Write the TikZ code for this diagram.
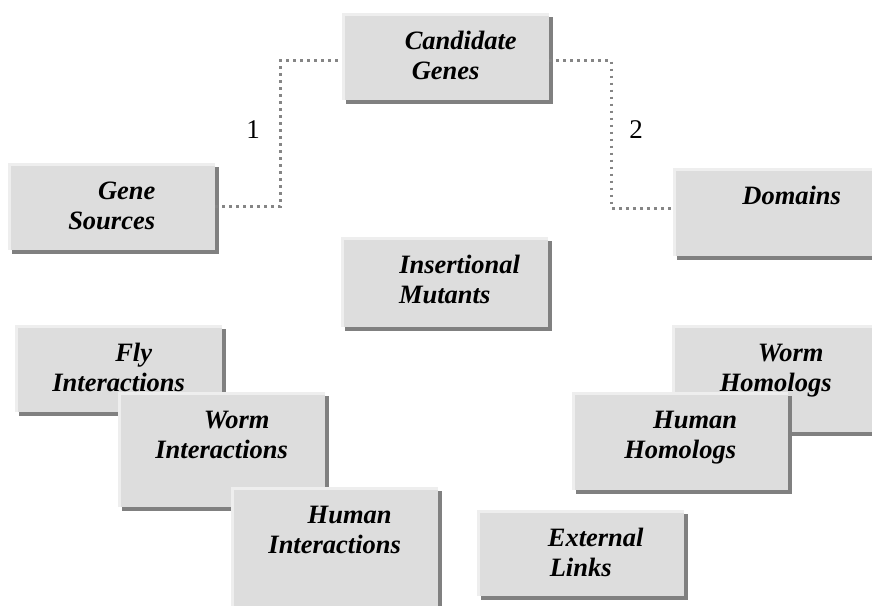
\documentclass[tikz,border=0pt]{standalone}
\usepackage{fontspec}
\setmainfont{Liberation Serif}
\newfontfamily\boxfont{Liberation Serif}
\usepackage{xcolor}
\usetikzlibrary{shadows,calc}
\definecolor{panelgray}{HTML}{DDDDDD}
\definecolor{edgegray}{HTML}{EEEEEE}
\definecolor{shadegray}{HTML}{808080}
\definecolor{dotgray}{HTML}{858585}
\newcommand{\ind}{\hspace*{30pt}}

\begin{document}
\begin{tikzpicture}[x=1pt,y=-1pt,
  panel/.style={anchor=north west,inner sep=0pt,fill=panelgray,align=center,
    font=\boxfont\bfseries\itshape\fontsize{26.5}{30}\selectfont,
    text height=66pt,minimum width=207pt,
    drop shadow={shadow xshift=4pt,shadow yshift=-4pt,fill=shadegray,opacity=1},
    path picture={\draw[edgegray,line width=6pt] (path picture bounding box.south west)
      -- (path picture bounding box.north west) -- (path picture bounding box.north east);}},
  link/.style={dotgray,line width=2.6pt,dash pattern=on 2.6pt off 4.4pt},
  num/.style={font=\fontsize{27}{30}\selectfont}]
\useasboundingbox (0,0) rectangle (872,605);
\clip (0,0) rectangle (872,605);
% top row
\node[panel,text depth=21pt] (cand) at (342,13) {\ind Candidate\\Genes};
\node[panel,text depth=21pt] (src) at (8,163) {\ind Gene\\Sources};
\node[panel,text height=36pt,text depth=52pt] (dom) at (673,168) {\ind Domains};
\node[panel,text depth=24pt] (mut) at (341,237) {\ind Insertional\\Mutants};
% interactions, stacked
\node[panel,text depth=21pt] (flyint) at (15,325) {\ind Fly\\Interactions};
\node[panel,text depth=49pt] (wormint) at (118,392) {\ind Worm\\Interactions};
\node[panel,text depth=60pt] (humint) at (231,487) {\ind Human\\Interactions};
% homologs, stacked
\node[panel,text depth=41pt] (wormhom) at (672,325) {\ind Worm\\Homologs};
\node[panel,minimum width=216pt,text depth=32pt] (humhom) at (572,392) {\ind Human\\Homologs};
\node[panel,text depth=20pt] (ext) at (477,510) {\ind External\\Links};
% links
\draw[link] (src.east) -- ++(65,0) |- ([yshift=-4pt]cand.west);
\draw[link] ([yshift=-4pt]cand.east) -- ++(62,0) |- ([yshift=4pt]dom.west);
\node[num] (one) at (253,130) {1};
\node[num] (two) at (636,130) {2};
\end{tikzpicture}
\end{document}
